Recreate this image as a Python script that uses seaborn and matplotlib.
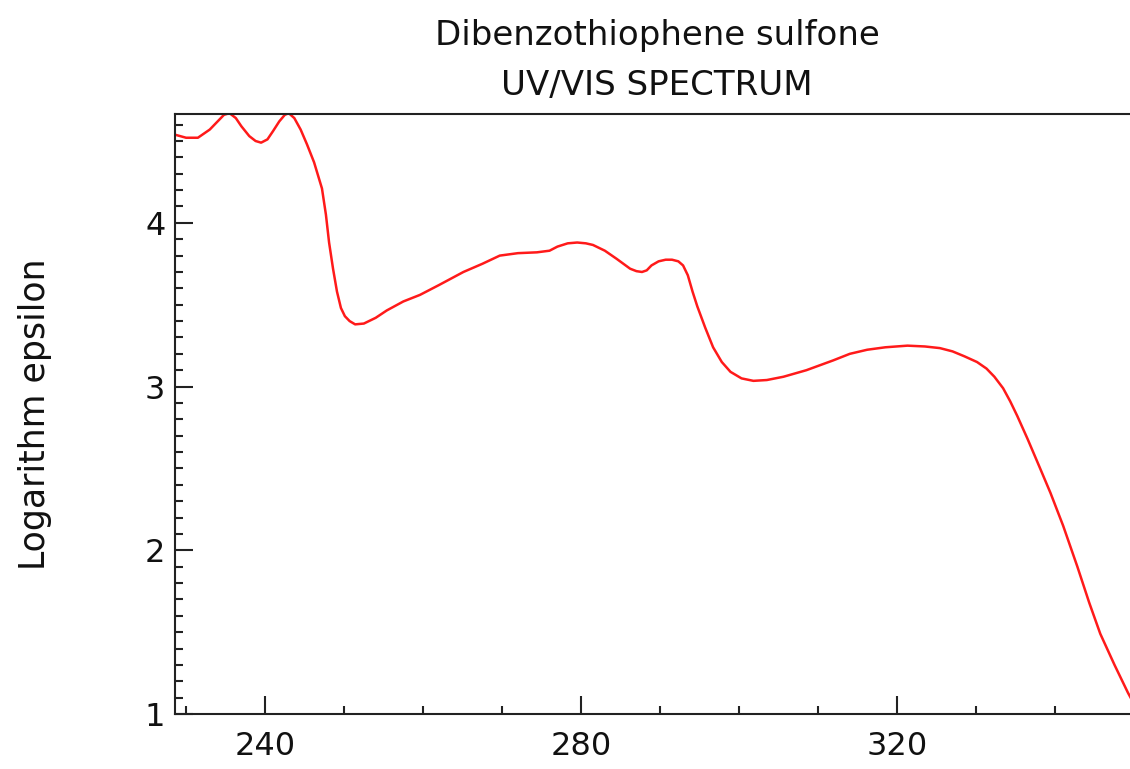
import matplotlib
matplotlib.use("Agg")
import matplotlib.pyplot as plt
from matplotlib.ticker import MultipleLocator
import seaborn as sns
import pandas as pd

# Wavelength (nm) and log(epsilon) for dibenzothiophene sulfone
wavelength = [
    228.5, 230.0, 231.5, 233.0, 234.0, 234.8, 235.5, 236.3, 237.0, 238.0,
    238.8, 239.5, 240.3, 241.0, 241.8, 242.5, 243.0, 243.7, 244.5, 245.3,
    246.2, 247.2, 247.7, 248.1, 248.6, 249.1, 249.6, 250.1, 250.7, 251.4,
    252.5, 254.0, 255.4, 257.5, 259.6, 262.0, 265.1, 267.5, 269.7, 272.0,
    274.4, 276.0, 277.0, 278.3, 279.5, 280.6, 281.5, 283.0, 284.5, 286.2,
    287.0, 287.7, 288.3, 288.9, 289.8, 290.7, 291.5, 292.3, 292.9, 293.5,
    294.1, 294.7, 295.7, 296.7, 297.8, 298.9, 300.3, 301.8, 303.5, 305.6,
    308.5, 311.9, 314.0, 316.2, 318.5, 321.3, 323.5, 325.4, 327.0, 328.5,
    330.1, 331.3, 332.3, 333.4, 334.3, 335.2, 336.5, 338.0, 339.4, 341.0,
    342.8, 344.3, 345.7, 347.5, 349.2, 351.0,
]
log_epsilon = [
    4.54, 4.52, 4.52, 4.57, 4.62, 4.66, 4.67, 4.64, 4.59, 4.53,
    4.50, 4.49, 4.51, 4.56, 4.62, 4.66, 4.67, 4.64, 4.57, 4.48,
    4.37, 4.21, 4.05, 3.88, 3.72, 3.58, 3.48, 3.43, 3.40, 3.38,
    3.385, 3.42, 3.465, 3.52, 3.56, 3.62, 3.70, 3.75, 3.80, 3.815,
    3.82, 3.83, 3.855, 3.875, 3.88, 3.875, 3.865, 3.83, 3.78, 3.72,
    3.705, 3.70, 3.71, 3.74, 3.765, 3.775, 3.775, 3.765, 3.74, 3.68,
    3.58, 3.49, 3.36, 3.24, 3.15, 3.09, 3.05, 3.035, 3.04, 3.06,
    3.10, 3.16, 3.20, 3.225, 3.24, 3.25, 3.245, 3.235, 3.215, 3.185,
    3.15, 3.11, 3.06, 2.99, 2.91, 2.82, 2.68, 2.51, 2.35, 2.15,
    1.90, 1.68, 1.49, 1.30, 1.13, 0.97,
]

title_lines = ["Dibenzothiophene sulfone", "UV/VIS SPECTRUM"]
y_label = "Logarithm epsilon"
x_major = [240, 280, 320]

df = pd.DataFrame({"wavelength": wavelength, "log_epsilon": log_epsilon})

sns.set_theme(style="white")
plt.rcParams["font.family"] = ["DejaVu Sans"]

fig = plt.figure(figsize=(11.30, 7.69), dpi=100)
ax = fig.add_axes([175 / 1130, 55 / 769, 964 / 1130, 600 / 769])

sns.lineplot(data=df, x="wavelength", y="log_epsilon", ax=ax,
             color="#ff1a1a", linewidth=1.8, sort=False)

ax.set_xlim(228.6, 350.6)
ax.set_ylim(1.0, 4.665)

ax.set_xticks(x_major)
ax.xaxis.set_minor_locator(MultipleLocator(10))
ax.yaxis.set_major_locator(MultipleLocator(1))
ax.yaxis.set_minor_locator(MultipleLocator(0.1))

ax.tick_params(which="both", direction="in", top=False, right=False,
               bottom=True, left=True, color="#222222", width=1.5)
ax.tick_params(which="major", length=13, labelsize=23,
               labelcolor="#111111")
ax.tick_params(axis="x", which="major", pad=12)
ax.tick_params(axis="y", which="major", pad=7)
ax.tick_params(which="minor", length=6)

for side in ["left", "bottom", "top", "right"]:
    ax.spines[side].set_color("#222222")
    ax.spines[side].set_linewidth(1.5)

ax.set_xlabel("")
ax.set_ylabel(y_label, fontsize=25, labelpad=67, color="#111111")
ax.set_title("\n".join(title_lines), fontsize=24.5, linespacing=1.65,
             pad=14, color="#111111")

fig.savefig("out.png", dpi=100)
